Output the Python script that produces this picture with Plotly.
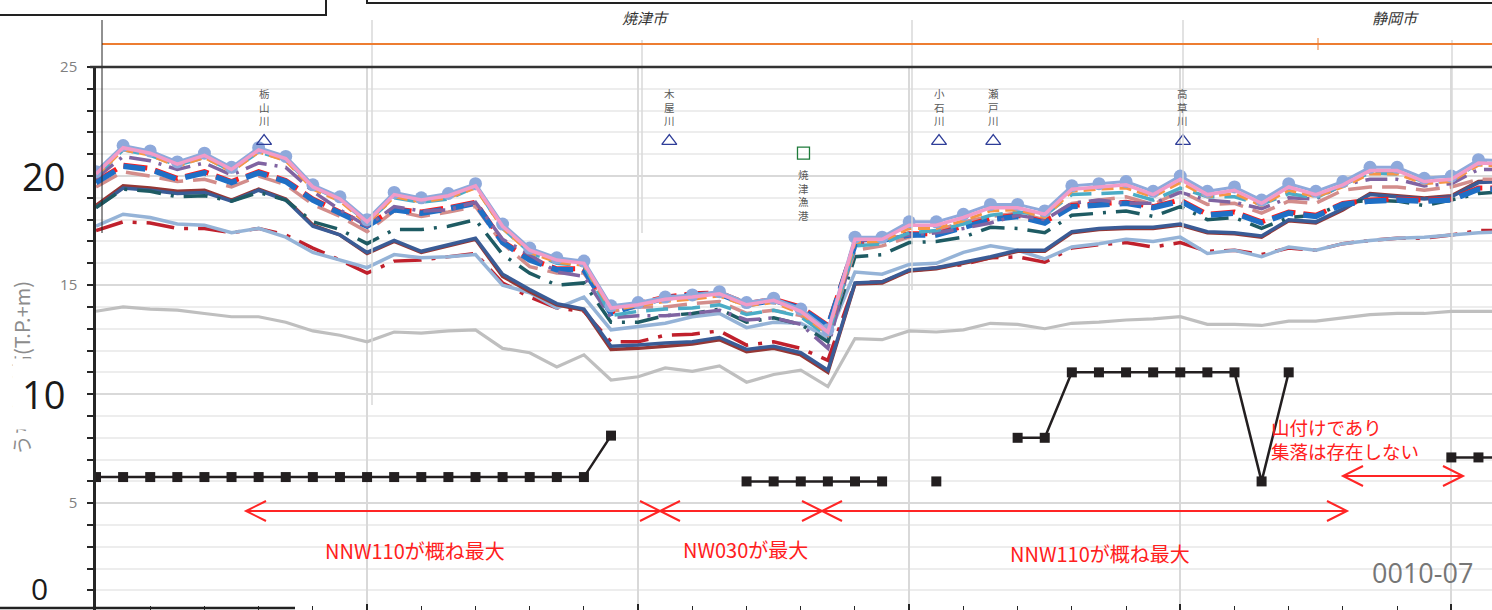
import plotly.graph_objects as go

# ---------------------------------------------------------------- data
STATIONS = list(range(53))

case_max = [20.2, 21.4, 21.15, 20.65, 21.05, 20.4, 21.3, 20.9, 19.6, 19.05, 18.0, 19.25, 19.0, 19.2, 19.65,
            17.8, 16.7, 16.25, 16.1, 14.05, 14.2, 14.45, 14.55, 14.7, 14.2, 14.4, 13.9, 12.95, 17.2, 17.2,
            17.9, 17.9, 18.25, 18.7, 18.7, 18.4, 19.55, 19.65, 19.75, 19.3, 20.0, 19.3, 19.5, 18.9, 19.65,
            19.3, 19.75, 20.4, 20.4, 19.9, 20.0, 20.75, 20.7]
case_pink = [20.1, 21.3, 21.05, 20.55, 20.95, 20.3, 21.2, 20.8, 19.5, 18.95, 17.9, 19.15, 18.9, 19.1, 19.55,
             17.7, 16.6, 16.15, 16.0, 13.95, 14.1, 14.35, 14.45, 14.6, 14.1, 14.3, 13.8, 12.85, 17.1, 17.1,
             17.75, 17.75, 18.1, 18.55, 18.55, 18.25, 19.4, 19.5, 19.6, 19.15, 19.85, 19.15, 19.35, 18.75, 19.5,
             19.15, 19.6, 20.25, 20.25, 19.75, 19.85, 20.6, 20.55]
case_orange = [20.0, 21.2, 20.95, 20.45, 20.85, 20.2, 21.1, 20.7, 19.4, 18.85, 17.8, 19.05, 18.8, 19.0, 19.45,
               17.6, 16.5, 16.05, 15.9, 13.85, 14.05, 14.25, 14.35, 14.5, 14.05, 14.2, 13.7, 12.75, 16.95, 17.0,
               17.6, 17.6, 17.95, 18.4, 18.45, 18.1, 19.3, 19.4, 19.45, 19.05, 19.7, 19.05, 19.2, 18.65, 19.35,
               19.05, 19.5, 20.1, 20.1, 19.65, 19.75, 20.5, 20.45]
case_cyan = [20.0, 21.2, 20.95, 20.5, 20.85, 20.25, 21.1, 20.75, 19.5, 18.9, 17.9, 19.0, 18.8, 18.95, 19.5,
             17.6, 16.5, 16.0, 15.9, 13.6, 13.8, 13.9, 13.95, 14.1, 13.65, 13.85, 13.55, 12.65, 16.8, 16.9,
             17.4, 17.5, 17.8, 18.2, 18.35, 18.2, 19.15, 19.2, 19.25, 18.9, 19.45, 19.05, 19.05, 18.7, 19.2,
             19.0, 19.6, 20.15, 20.1, 19.75, 19.8, 20.6, 20.6]
case_purple = [19.9, 20.9, 20.7, 20.3, 20.6, 20.05, 20.6, 20.4, 19.3, 18.45, 17.7, 18.6, 18.4, 18.45, 18.8,
               17.1, 16.4, 15.6, 15.4, 13.5, 13.6, 13.6, 13.7, 13.85, 13.4, 13.5, 13.2, 12.1, 17.0, 17.1,
               17.3, 17.4, 17.6, 17.85, 18.2, 18.0, 18.75, 18.9, 18.75, 18.75, 19.25, 18.9, 18.8, 18.5, 19.0,
               18.95, 19.6, 19.85, 19.85, 19.55, 19.65, 20.3, 20.3]
case_red = [19.75, 20.5, 20.35, 19.9, 20.2, 19.75, 20.2, 19.8, 18.95, 18.35, 17.75, 18.5, 18.35, 18.55, 18.8,
            17.0, 16.2, 15.75, 15.75, 13.75, 14.15, 14.45, 14.6, 14.65, 14.15, 14.35, 14.0, 13.15, 16.9, 17.1,
            17.35, 17.35, 17.7, 18.05, 18.2, 17.9, 18.65, 18.75, 18.8, 18.6, 18.9, 18.25, 18.35, 17.9, 18.35,
            18.2, 18.75, 18.9, 18.95, 18.9, 18.95, 19.45, 19.45]
case_blue = [19.7, 20.45, 20.3, 19.85, 20.15, 19.7, 20.15, 19.75, 18.9, 18.3, 17.7, 18.45, 18.3, 18.5, 18.75,
             16.95, 16.15, 15.7, 15.7, 13.7, 14.1, 14.4, 14.55, 14.6, 14.1, 14.3, 13.95, 13.1, 16.85, 17.05,
             17.3, 17.3, 17.65, 18.0, 18.15, 17.85, 18.6, 18.7, 18.75, 18.55, 18.85, 18.2, 18.3, 17.85, 18.3,
             18.15, 18.7, 18.85, 18.9, 18.85, 18.9, 19.4, 19.4]
case_rose = [19.5, 20.2, 20.0, 19.75, 19.85, 19.5, 20.0, 19.6, 18.7, 18.15, 17.45, 18.4, 18.15, 18.35, 18.6,
             16.9, 15.85, 15.55, 15.55, 13.8, 14.0, 14.0, 14.15, 14.25, 13.7, 13.85, 13.6, 12.7, 16.6, 16.8,
             17.2, 17.5, 17.9, 18.15, 18.3, 18.0, 18.75, 18.9, 19.05, 18.7, 19.3, 18.7, 18.75, 18.3, 18.85,
             18.75, 19.35, 19.5, 19.5, 19.35, 19.5, 19.85, 19.85]
case_teal = [18.55, 19.4, 19.3, 19.05, 19.1, 18.85, 19.25, 18.9, 17.9, 17.55, 16.9, 17.55, 17.55, 17.7, 18.0,
             16.4, 15.55, 15.0, 15.1, 13.3, 13.3, 13.6, 13.7, 13.9, 13.3, 13.5, 13.2, 12.4, 16.3, 16.4,
             16.95, 17.0, 17.2, 17.65, 17.6, 17.4, 18.2, 18.3, 18.4, 18.15, 18.6, 18.0, 18.1, 17.6, 18.1,
             18.2, 18.75, 18.9, 18.85, 18.65, 18.9, 19.2, 19.3]
case_navy = [18.55, 19.45, 19.35, 19.2, 19.25, 18.85, 19.35, 18.9, 17.7, 17.3, 16.5, 17.05, 16.55, 16.85, 17.15,
             15.5, 14.8, 14.15, 13.9, 12.2, 12.25, 12.35, 12.4, 12.6, 12.05, 12.2, 11.9, 11.1, 15.1, 15.15,
             15.7, 15.8, 16.05, 16.3, 16.6, 16.6, 17.45, 17.6, 17.65, 17.65, 17.8, 17.45, 17.4, 17.25, 18.0,
             17.9, 18.5, 19.15, 19.05, 18.95, 19.05, 19.7, 19.75]
case_maroon = [18.65, 19.55, 19.45, 19.3, 19.35, 18.9, 19.4, 18.95, 17.75, 17.3, 16.45, 17.0, 16.5, 16.8, 17.1,
               15.4, 14.7, 14.1, 13.85, 12.05, 12.1, 12.2, 12.3, 12.5, 11.95, 12.1, 11.8, 11.0, 15.05, 15.1,
               15.65, 15.75, 16.0, 16.25, 16.55, 16.55, 17.4, 17.55, 17.6, 17.6, 17.75, 17.4, 17.35, 17.2, 17.95,
               17.85, 18.45, 19.2, 19.1, 19.0, 19.1, 19.75, 19.8]
case_skyblue = [17.7, 18.25, 18.1, 17.8, 17.75, 17.4, 17.6, 17.2, 16.5, 16.15, 15.8, 16.4, 16.25, 16.3, 16.4,
                15.0, 14.65, 13.95, 14.45, 12.95, 13.1, 13.25, 13.55, 13.7, 13.05, 13.3, 13.25, 12.6, 15.6, 15.5,
                15.95, 16.0, 16.5, 16.8, 16.6, 16.2, 16.75, 16.9, 17.1, 17.0, 17.2, 16.45, 16.6, 16.3, 16.75,
                16.6, 16.9, 17.05, 17.15, 17.2, 17.3, 17.4, 17.45]
case_crimson = [17.5, 17.9, 17.85, 17.6, 17.6, 17.4, 17.6, 17.3, 16.7, 16.15, 15.55, 16.1, 16.15, 16.3, 16.45,
                15.1, 14.45, 13.95, 13.8, 12.4, 12.4, 12.7, 12.75, 12.9, 12.25, 12.4, 12.1, 11.55, 15.1, 15.15,
                15.65, 15.8, 15.95, 16.25, 16.3, 16.05, 16.7, 16.85, 16.95, 16.75, 16.95, 16.55, 16.6, 16.4, 16.7,
                16.6, 16.9, 17.05, 17.15, 17.15, 17.3, 17.5, 17.5]
case_gray = [13.8, 14.0, 13.9, 13.85, 13.7, 13.55, 13.55, 13.3, 12.9, 12.7, 12.4, 12.85, 12.8, 12.9, 12.95,
             12.1, 11.9, 11.25, 11.8, 10.65, 10.8, 11.2, 11.05, 11.3, 10.55, 10.9, 11.1, 10.35, 12.55, 12.5,
             12.9, 12.85, 12.95, 13.25, 13.2, 13.0, 13.25, 13.3, 13.4, 13.45, 13.55, 13.2, 13.2, 13.15, 13.35,
             13.35, 13.5, 13.65, 13.7, 13.7, 13.8, 13.8, 13.8]
# back-land (settlement) ground height
ground = [6.2, 6.2, 6.2, 6.2, 6.2, 6.2, 6.2, 6.2, 6.2, 6.2, 6.2, 6.2, 6.2, 6.2, 6.2, 6.2, 6.2, 6.2, 6.2, 8.1,
          None, None, None, None, 6.0, 6.0, 6.0, 6.0, 6.0, 6.0, None, 6.0, None, None, 8.0, 8.0,
          11.0, 11.0, 11.0, 11.0, 11.0, 11.0, 11.0, 6.0, 11.0, None, None, None, None, None, 7.1, 7.1, 7.1]

RIVER_X = [6.2, 21.15, 31.1, 33.1, 40.1]
RIVER_NAMES = ["栃山川", "木屋川", "小石川", "瀬戸川", "高草川"]
RIVER_LEVEL = 21.6
PORT_X = [26.1]
PORT_NAMES = ["焼津漁港"]
PORT_LEVEL = 21.05

CITY_NAMES = ["焼津市", "静岡市"]
SMALL_TICKS = [0, 5, 10, 15, 20, 25]
SMALL_TICK_TEXT = ["", "5", "", "15", "", "25"]
BIG_TICKS = [20, 10, 0]
Y_TITLE = "うちあげ高(T.P.+m)"
ZONE_LABELS = ["NNW110が概ね最大", "NW030が最大", "NNW110が概ね最大"]
NOTE_LINES = ["山付けであり", "集落は存在しない"]
SHEET_ID = "0010-07"

# ---------------------------------------------------------------- layout geometry
W, H = 1492, 610
L, T = 96, 67
PW, PH = W - L, H - T
XMAX = 51.5
YMIN, YMAX = 0.105, 25.0
SY = PH / (YMAX - YMIN)


def px(x):
    return (x - L) / PW


def py(y):
    return (H - y) / PH


fig = go.Figure()

styles = [
    (case_gray, "#BFBFBF", 3.2, "solid"),
    (case_crimson, "#C0202C", 3.5, "28px,10px,4px,10px"),
    (case_skyblue, "#95B3D7", 3.5, "solid"),
    (case_maroon, "#953735", 3.5, "solid"),
    (case_navy, "#3A5C96", 3.5, "solid"),
    (case_teal, "#1E5B63", 3.5, "24px,10px,3px,10px"),
    (case_rose, "#D38D8B", 3.5, "24px,10px"),
    (case_red, "#FF1A1A", 5, "24px,8px"),
    (case_blue, "#1F6FC5", 5.5, "22px,10px"),
    (case_purple, "#8064A2", 3.5, "22px,8px,3px,8px"),
    (case_cyan, "#4BACC6", 3.5, "22px,10px"),
    (case_orange, "#F79646", 3, "12px,6px"),
]
for vals, color, width, dash in styles:
    fig.add_trace(go.Scatter(x=STATIONS, y=vals, mode="lines",
                             line=dict(color=color, width=width, dash=dash),
                             showlegend=False, hoverinfo="skip"))

fig.add_trace(go.Scatter(x=STATIONS, y=case_max, mode="lines+markers",
                         line=dict(color="#8EA9DB", width=3),
                         marker=dict(color="#8EA9DB", size=13, symbol="circle"),
                         showlegend=False))
fig.add_trace(go.Scatter(x=STATIONS, y=case_pink, mode="lines",
                         line=dict(color="#F29BC8", width=3.5), showlegend=False))

fig.add_trace(go.Scatter(x=STATIONS, y=ground, mode="lines+markers", connectgaps=False,
                         line=dict(color="#231F20", width=2.5),
                         marker=dict(color="#231F20", size=10, symbol="square"),
                         showlegend=False))

# river mouths and fishing port symbols
fig.add_trace(go.Scatter(x=RIVER_X, y=[RIVER_LEVEL] * len(RIVER_X), mode="markers",
                         marker=dict(symbol="triangle-up-open", size=13, color="#2E3D98",
                                     line=dict(width=1.3, color="#2E3D98")),
                         showlegend=False, cliponaxis=False))
fig.add_trace(go.Scatter(x=PORT_X, y=[PORT_LEVEL], mode="markers",
                         marker=dict(symbol="square-open", size=12, color="#1E7B3A",
                                     line=dict(width=1.3, color="#1E7B3A")),
                         showlegend=False))

ann = []
LABEL_FONT = dict(size=10.5, color="#595959", family="Noto Sans CJK JP")
# vertical names, one character per line
for x, name in zip(RIVER_X, RIVER_NAMES):
    ann.append(dict(x=x, y=RIVER_LEVEL, yshift=11, text="<br>".join(name), showarrow=False,
                    xanchor="center", yanchor="bottom", font=LABEL_FONT))
for x, name in zip(PORT_X, PORT_NAMES):
    ann.append(dict(x=x, y=PORT_LEVEL, yshift=-12, text="<br>".join(name), showarrow=False,
                    xanchor="center", yanchor="top", font=LABEL_FONT))

# city names
for cx, name in zip([645, 1395], CITY_NAMES):
    ann.append(dict(xref="paper", yref="paper", x=px(cx), y=py(18), text="<i>" + name + "</i>",
                    showarrow=False, xanchor="center", yanchor="middle",
                    font=dict(size=15, color="#333333", family="Noto Sans CJK JP")))

# y-axis title and large tick labels
ann.append(dict(xref="paper", yref="paper", x=px(21), y=py(368), text=Y_TITLE, textangle=-90,
                showarrow=False, xanchor="center", yanchor="middle",
                font=dict(size=20, color="#8C8C8C", family="Noto Sans CJK JP")))
for v in BIG_TICKS:
    ypix = 612.3 - v * SY
    yanchor = "middle"
    if v == 0:
        ypix = 610
        yanchor = "bottom"
    ann.append(dict(xref="paper", yref="paper", x=px(43 if v else 39), y=py(ypix),
                    text=str(v), showarrow=False, xanchor="center", yanchor=yanchor,
                    bgcolor="white" if v == 10 else None, borderpad=9 if v == 10 else 0,
                    font=dict(size=38 if v else 30, color="#1A1A1A", family="Open Sans")))

# zone labels below the arrows
for (cx, cy), text in zip([(415, 550), (745, 549), (1100, 553)], ZONE_LABELS):
    ann.append(dict(xref="paper", yref="paper", x=px(cx), y=py(cy), text=text, showarrow=False,
                    xanchor="center", yanchor="middle",
                    font=dict(size=20, color="#FF2020", family="Noto Sans CJK JP")))
ann.append(dict(xref="paper", yref="paper", x=px(1269), y=py(439), text="<br>".join(NOTE_LINES),
                showarrow=False, xanchor="left", yanchor="middle", align="left",
                font=dict(size=18.5, color="#FF2020", family="Noto Sans CJK JP")))
ann.append(dict(xref="paper", yref="paper", x=px(1422), y=py(572), text=SHEET_ID, showarrow=False,
                xanchor="center", yanchor="middle",
                font=dict(size=27, color="#767676", family="Open Sans")))

shapes = []


def line(x0, y0, x1, y1, color, width):
    shapes.append(dict(type="line", xref="paper", yref="paper", x0=px(x0), y0=py(y0), x1=px(x1), y1=py(y1),
                       line=dict(color=color, width=width), layer="above"))


def double_arrow(x0, x1, y, color="#FF2525"):
    line(x0, y, x1, y, color, 2)
    for tip, d in ((x0, 1), (x1, -1)):
        path = "M {},{} L {},{} L {},{}".format(px(tip + 20 * d), py(y - 10), px(tip), py(y),
                                                px(tip + 20 * d), py(y + 10))
        shapes.append(dict(type="path", xref="paper", yref="paper", path=path,
                           line=dict(color=color, width=2), layer="above"))


double_arrow(246, 660, 511)
double_arrow(660, 822, 511)
double_arrow(822, 1347, 511)
double_arrow(1343, 1463, 476)

# upper overlay frame: city band and boundaries
for x, y0, y1 in [(372, 20, 405), (642, 40, 233), (912, 20, 290), (1183, 20, 232), (1452, 40, 250)]:
    line(x, y0, x, y1, "#D9D9D9", 1.5)
line(102, 44, 1500, 44, "#ED7D31", 2)
line(1318, 38, 1318, 50, "#ED7D31", 1)
line(102, 20, 102, 233, "#222222", 1)
line(90, 67, 1500, 67, "#333333", 2.5)
shapes.append(dict(type="rect", xref="paper", yref="paper", x0=px(-5), y0=py(-10), x1=px(326), y1=py(15),
                   line=dict(color="#222222", width=2), fillcolor="white", layer="above"))
shapes.append(dict(type="rect", xref="paper", yref="paper", x0=px(367), y0=py(-10), x1=px(1510), y1=py(3),
                   line=dict(color="#222222", width=2), fillcolor="white", layer="above"))
line(0, 608, 295, 608, "#222222", 2.5)

fig.update_layout(
    width=W, height=H,
    margin=dict(l=L, r=0, t=T, b=0),
    paper_bgcolor="white", plot_bgcolor="white",
    annotations=ann, shapes=shapes,
    xaxis=dict(range=[0, XMAX], tickmode="linear", tick0=0, dtick=10, ticks="inside", ticklen=6,
               tickwidth=1.5, tickcolor="#262626", showticklabels=False, showgrid=True,
               gridcolor="#D9D9D9", gridwidth=1.5, zeroline=False, showline=False,
               minor=dict(tick0=0, dtick=2, ticks="inside", ticklen=4, tickwidth=1.2,
                          tickcolor="#262626", showgrid=False)),
    yaxis=dict(range=[YMIN, YMAX], tickmode="array", tickvals=SMALL_TICKS, ticktext=SMALL_TICK_TEXT,
               ticks="outside", ticklen=6, tickwidth=2, tickcolor="#262626", ticklabelstandoff=7,
               tickfont=dict(size=15, color="#7F7F7F", family="Open Sans"),
               showgrid=True, gridcolor="#D9D9D9", gridwidth=2, zeroline=False,
               showline=True, linecolor="#262626", linewidth=2.5,
               minor=dict(tickmode="linear", tick0=0, dtick=1, ticks="outside", ticklen=6, tickwidth=1.5,
                          tickcolor="#262626", showgrid=True, gridcolor="#EDEDED", gridwidth=1.5)),
)

fig.write_html("out.html")
